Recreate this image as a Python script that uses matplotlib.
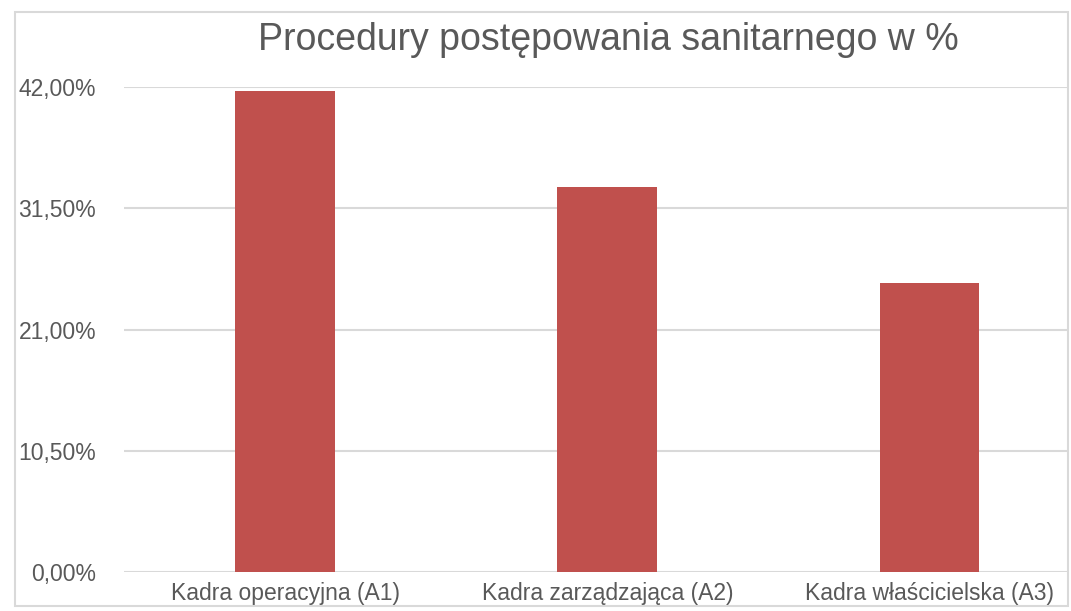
import matplotlib.pyplot as plt
from matplotlib.patches import Rectangle

# data
categories = ['Kadra operacyjna (A1)', 'Kadra zarządzająca (A2)', 'Kadra właścicielska (A3)']
values = [41.67, 33.33, 25.0]
yticks = [0, 10.5, 21, 31.5, 42]

plt.rcParams['font.family'] = ['Liberation Sans', 'DejaVu Sans']

W, H = 1071, 611
fig = plt.figure(figsize=(W / 100, H / 100), dpi=100)
ax = fig.add_axes([124 / W, (H - 572) / H, (1068 - 124) / W, (572 - 87) / H])

x = list(range(len(categories)))
ax.bar(x, values, width=0.31, color='#C0504D', zorder=3)

ax.set_xlim(-0.5, 2.43)
ax.set_ylim(0, 42)
ax.set_yticks(yticks)
ax.set_yticklabels([f'{v:.2f}%'.replace('.', ',') for v in yticks])
ax.set_xticks(x)
ax.set_xticklabels(categories)
ax.grid(axis='y', color='#D9D9D9', linewidth=1.5, zorder=0)
for s in ax.spines.values():
    s.set_visible(False)
ax.tick_params(axis='y', length=0, pad=20, labelsize=16.5, labelcolor='#595959')
ax.tick_params(axis='x', length=0, pad=7, labelsize=16.5, labelcolor='#595959')

fig.text(608 / W, 1 - 40 / H, 'Procedury postępowania sanitarnego w %',
         ha='center', va='center', fontsize=27, color='#595959')

# outer chart border
fig.patches.append(Rectangle((15 / W, 1 - 606 / H), (1068 - 15) / W, (606 - 12) / H,
                             transform=fig.transFigure, fill=False,
                             edgecolor='#D9D9D9', linewidth=1.5))

fig.savefig('out.png', dpi=100)
